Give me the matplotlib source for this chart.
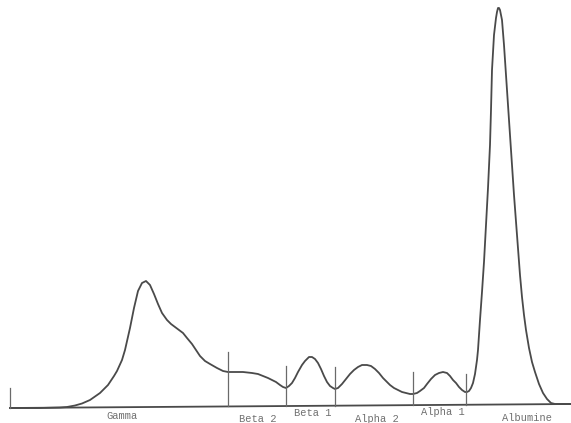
import numpy as np
import matplotlib.pyplot as plt

# Serum protein electrophoresis trace (position along strip, density above baseline)
trace_x = [10, 40, 60, 67, 75, 82, 90, 100, 108, 114, 117, 122, 125, 130, 134,
           138, 142, 146, 150, 154, 158, 162, 167, 171, 175, 179, 183, 187, 192,
           196, 200, 205, 210, 217, 223, 228, 236, 243, 252, 258, 263, 268, 272,
           276, 280, 283, 286, 289, 292, 295, 298, 302, 305, 309, 312, 315, 318,
           321, 324, 327, 330, 333, 335, 338, 342, 346, 350, 354, 358, 362, 367,
           371, 375, 379, 383, 387, 390, 394, 398, 402, 406, 410, 413, 417, 420,
           424, 427, 431, 435, 439, 443, 447, 450, 453, 456, 459, 462, 465, 467,
           469, 471, 473, 475, 477, 478, 480, 482, 484, 486, 488, 490, 491, 492,
           494, 496, 497, 498, 499, 500, 502, 504, 506, 508, 510, 512, 514, 516,
           518, 520, 522, 524, 526, 529, 532, 535, 539, 543, 547, 551, 555, 571]
trace_y = [0, 0, 0.5, 1, 2.5, 4.5, 8, 15, 23, 32, 37, 48, 58, 80, 100,
           117, 125, 127, 123, 114, 104, 95, 88, 84, 81, 78, 75, 70, 64,
           58, 52, 47, 44, 40, 37, 36, 36, 36, 35, 34, 32, 30, 28,
           26, 23, 21, 20, 22, 25, 30, 36, 43, 47, 51, 51, 49, 45,
           39, 32, 26, 22, 20, 19, 20, 24, 29, 34, 38, 41, 43, 43,
           42, 39, 35, 30, 26, 23, 20, 18, 16, 15, 14, 14, 15, 17,
           20, 24, 29, 33, 35, 36, 35, 32, 28, 25, 21, 18, 16, 16,
           17, 20, 25, 34, 48, 58, 88, 116, 146, 183, 220, 263, 298, 338,
           373, 390, 396, 400, 400, 398, 388, 363, 333, 303, 273, 243, 213, 186,
           158, 133, 111, 93, 78, 60, 46, 36, 24, 15, 9, 5, 4, 4]

baseline_x = [10, 571]
baseline_y = [0, 4]

# fraction boundaries: position and mark height
sep_x = [10, 228, 286, 335, 413, 466]
sep_h = [20, 54, 40, 39, 33, 31]

labels = ["Gamma", "Beta 2", "Beta 1", "Alpha 2", "Alpha 1", "Albumine"]
label_x = [122, 258, 313, 377, 443, 527]
label_y = [-8, -10.5, -5, -10.5, -4, -10]

fig = plt.figure(figsize=(5.71, 4.23), dpi=100)
ax = fig.add_axes([0, 0, 1, 1])

line_col = "#4a4a4a"
ax.plot(trace_x, trace_y, color=line_col, lw=1.3, solid_joinstyle="round")
ax.plot(baseline_x, baseline_y, color=line_col, lw=1.3)

sep_base = np.interp(sep_x, baseline_x, baseline_y)
for x, b, h in zip(sep_x, sep_base, sep_h):
    ax.plot([x, x], [b, b + h], color="#6a6a6a", lw=0.9)

for t, x, y in zip(labels, label_x, label_y):
    ax.text(x, y, t, ha="center", va="center", fontsize=7.5,
            family="Liberation Mono", color="#707070")

ax.set_xlim(0, 571)
ax.set_ylim(-15, 408)
ax.axis("off")

fig.savefig("out.png", dpi=100)
